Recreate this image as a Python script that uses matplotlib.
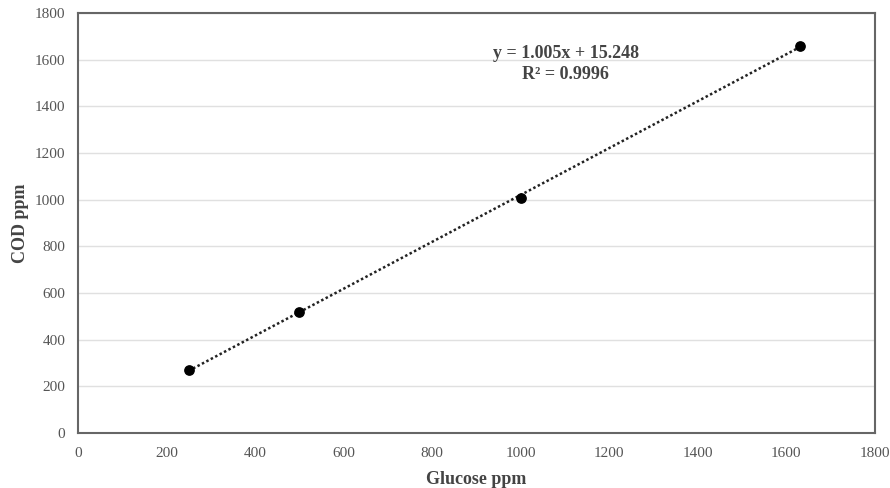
import matplotlib
matplotlib.use("Agg")
import matplotlib.pyplot as plt
import numpy as np

plt.rcParams['font.family'] = ['Liberation Serif', 'DejaVu Serif']

glucose = [250, 500, 1000, 1630]
cod = [270, 520, 1005, 1660]
slope = 1.005
intercept = 15.248
r2 = 0.9996
x_ticks = [0, 200, 400, 600, 800, 1000, 1200, 1400, 1600, 1800]
y_ticks = [0, 200, 400, 600, 800, 1000, 1200, 1400, 1600, 1800]

fig = plt.figure(figsize=(8.9, 4.88), dpi=100)
ax = fig.add_axes([0.0876, 0.1127, 0.8955, 0.8607])

ax.set_xlim(0, 1800)
ax.set_ylim(0, 1800)
ax.set_xticks(x_ticks)
ax.set_yticks(y_ticks)
ax.grid(axis='y', color='#e0e0e0', linewidth=1.0)
ax.set_axisbelow(True)

xf = np.array([min(glucose), max(glucose)])
ax.plot(xf, slope * xf + intercept, linestyle=(0, (1, 1)), color='#222222', linewidth=1.8, zorder=2)
ax.scatter(glucose, cod, s=45, color='black', zorder=3)

for sp in ax.spines.values():
    sp.set_color('#666666')
    sp.set_linewidth(1.5)

ax.tick_params(axis='both', length=0, labelsize=11, labelcolor='#555555')
ax.tick_params(axis='x', pad=10)
ax.tick_params(axis='y', pad=9)
ax.set_xlabel('Glucose ppm', fontsize=13, fontweight='bold', color='#444444', labelpad=8)
ax.set_ylabel('COD ppm', fontsize=13, fontweight='bold', color='#444444', labelpad=4)

ax.text(1102, 1625, f'y = {slope:.3f}x + {intercept:.3f}', ha='center', va='center',
        fontsize=13, fontweight='bold', color='#444444')
ax.text(1102, 1535, f'R² = {r2:.4f}', ha='center', va='center',
        fontsize=13, fontweight='bold', color='#444444')

fig.savefig('out.png', dpi=100)
